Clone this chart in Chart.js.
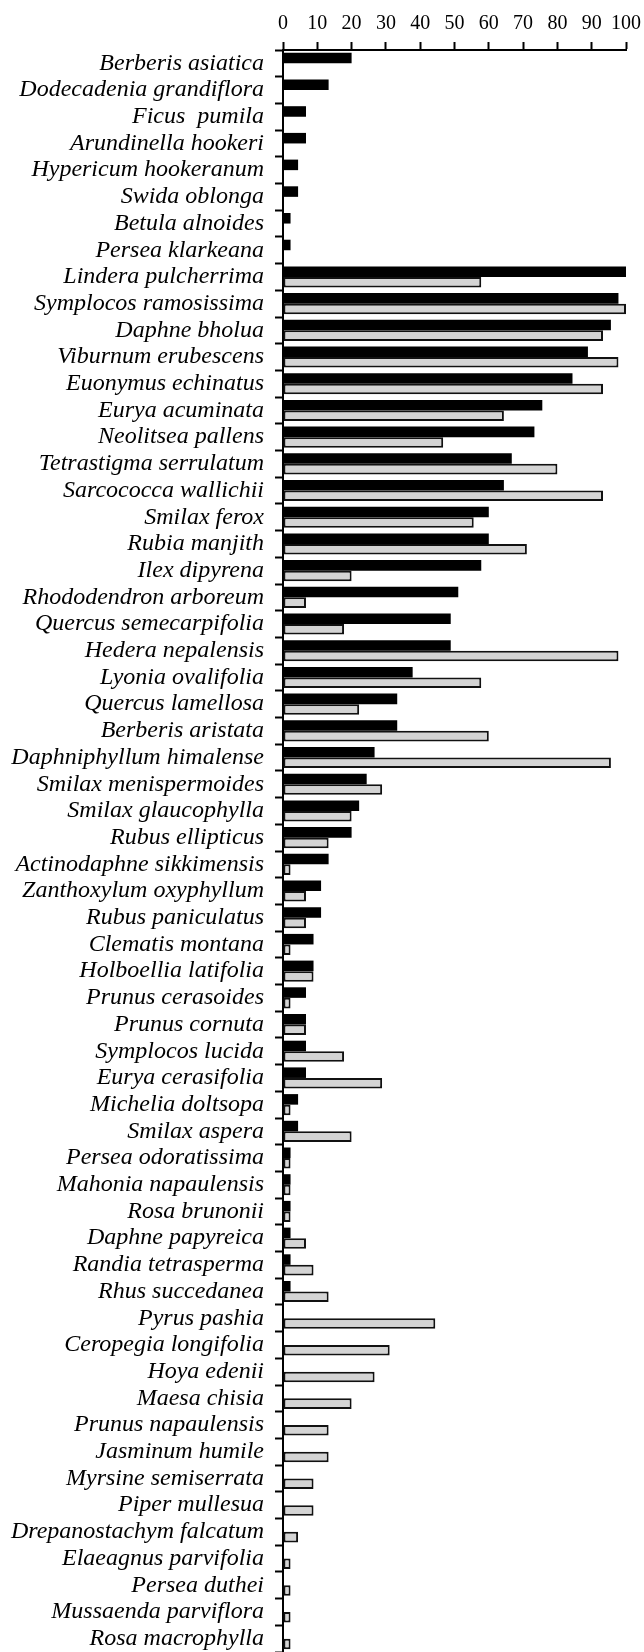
<!DOCTYPE html>
<html>
<head>
<meta charset="utf-8">
<script src="https://cdn.jsdelivr.net/npm/chart.js@4/dist/chart.umd.min.js"></script>
<style>
  html, body { margin: 0; padding: 0; background: #fff; overflow: hidden; }
  #wrap { width: 644px; height: 1652px; position: relative; }
</style>
</head>
<body>
<div id="wrap"><canvas id="c" width="644" height="1652"></canvas></div>
<script>
const species = [
  "Berberis asiatica", "Dodecadenia grandiflora", "Ficus  pumila", "Arundinella hookeri",
  "Hypericum hookeranum", "Swida oblonga", "Betula alnoides", "Persea klarkeana",
  "Lindera pulcherrima", "Symplocos ramosissima", "Daphne bholua", "Viburnum erubescens",
  "Euonymus echinatus", "Eurya acuminata", "Neolitsea pallens", "Tetrastigma serrulatum",
  "Sarcococca wallichii", "Smilax ferox", "Rubia manjith", "Ilex dipyrena",
  "Rhododendron arboreum", "Quercus semecarpifolia", "Hedera nepalensis", "Lyonia ovalifolia",
  "Quercus lamellosa", "Berberis aristata", "Daphniphyllum himalense", "Smilax menispermoides",
  "Smilax glaucophylla", "Rubus ellipticus", "Actinodaphne sikkimensis", "Zanthoxylum oxyphyllum",
  "Rubus paniculatus", "Clematis montana", "Holboellia latifolia", "Prunus cerasoides",
  "Prunus cornuta", "Symplocos lucida", "Eurya cerasifolia", "Michelia doltsopa",
  "Smilax aspera", "Persea odoratissima", "Mahonia napaulensis", "Rosa brunonii",
  "Daphne papyreica", "Randia tetrasperma", "Rhus succedanea", "Pyrus pashia",
  "Ceropegia longifolia", "Hoya edenii", "Maesa chisia", "Prunus napaulensis",
  "Jasminum humile", "Myrsine semiserrata", "Piper mullesua", "Drepanostachym falcatum",
  "Elaeagnus parvifolia", "Persea duthei", "Mussaenda parviflora", "Rosa macrophylla"
];

const seriesBlack = [
  20, 13.3, 6.7, 6.7, 4.4, 4.4, 2.2, 2.2,
  100, 97.8, 95.6, 88.9, 84.4, 75.6, 73.3, 66.7,
  64.4, 60, 60, 57.8, 51.1, 48.9, 48.9, 37.8,
  33.3, 33.3, 26.7, 24.4, 22.2, 20, 13.3, 11.1,
  11.1, 8.9, 8.9, 6.7, 6.7, 6.7, 6.7, 4.4,
  4.4, 2.2, 2.2, 2.2, 2.2, 2.2, 2.2, null,
  null, null, null, null, null, null, null, null,
  null, null, null, null
];

const seriesGray = [
  null, null, null, null, null, null, null, null,
  57.8, 100, 93.3, 97.8, 93.3, 64.4, 46.7, 80,
  93.3, 55.6, 71.1, 20, 6.7, 17.8, 97.8, 57.8,
  22.2, 60, 95.6, 28.9, 20, 13.3, 2.2, 6.7,
  6.7, 2.2, 8.9, 2.2, 6.7, 17.8, 28.9, 2.2,
  20, 2.2, 2.2, 2.2, 6.7, 8.9, 13.3, 44.4,
  31.1, 26.7, 20, 13.3, 13.3, 8.9, 8.9, 4.4,
  2.2, 2.2, 2.2, 2.2
];

const xTicks = [0, 10, 20, 30, 40, 50, 60, 70, 80, 90, 100];

new Chart(document.getElementById('c'), {
  type: 'bar',
  data: {
    labels: species,
    datasets: [
      {
        data: seriesBlack,
        backgroundColor: '#000000',
        borderColor: '#000000',
        borderWidth: 0,
        categoryPercentage: 0.79,
        barPercentage: 1.0
      },
      {
        data: seriesGray,
        backgroundColor: '#d4d4d4',
        borderColor: '#111111',
        borderWidth: 2,
        borderSkipped: false,
        categoryPercentage: 0.79,
        barPercentage: 1.0
      }
    ]
  },
  options: {
    indexAxis: 'y',
    responsive: false,
    animation: false,
    devicePixelRatio: 1,
    layout: { padding: { left: 0, right: 18, top: 0, bottom: 0 } },
    plugins: { legend: { display: false }, tooltip: { enabled: false }, title: { display: false } },
    scales: {
      x: {
        position: 'top',
        min: 0,
        max: 100,
        afterBuildTicks: (scale) => { scale.ticks = xTicks.map(v => ({ value: v })); },
        afterFit: (scale) => { scale.height = 50; scale.paddingLeft = 0; scale.paddingRight = 0; },
        grid: { drawOnChartArea: false, drawTicks: true, tickLength: 8, tickColor: '#000', tickWidth: 2 },
        border: { display: true, color: '#000', width: 2 },
        ticks: {
          color: '#000',
          padding: 6,
          autoSkip: false,
          maxRotation: 0,
          minRotation: 0,
          font: { family: "'Liberation Serif', serif", size: 20 }
        }
      },
      y: {
        afterFit: (scale) => { scale.width = 283; scale.paddingTop = 0; scale.paddingBottom = 0; },
        grid: { drawOnChartArea: false, drawTicks: true, tickLength: 8, tickColor: '#000', tickWidth: 2, offset: true },
        border: { display: true, color: '#000', width: 2 },
        ticks: {
          color: '#000',
          padding: 11,
          autoSkip: false,
          font: { family: "'Liberation Serif', serif", size: 24, style: 'italic' }
        }
      }
    }
  }
});
</script>
</body>
</html>
